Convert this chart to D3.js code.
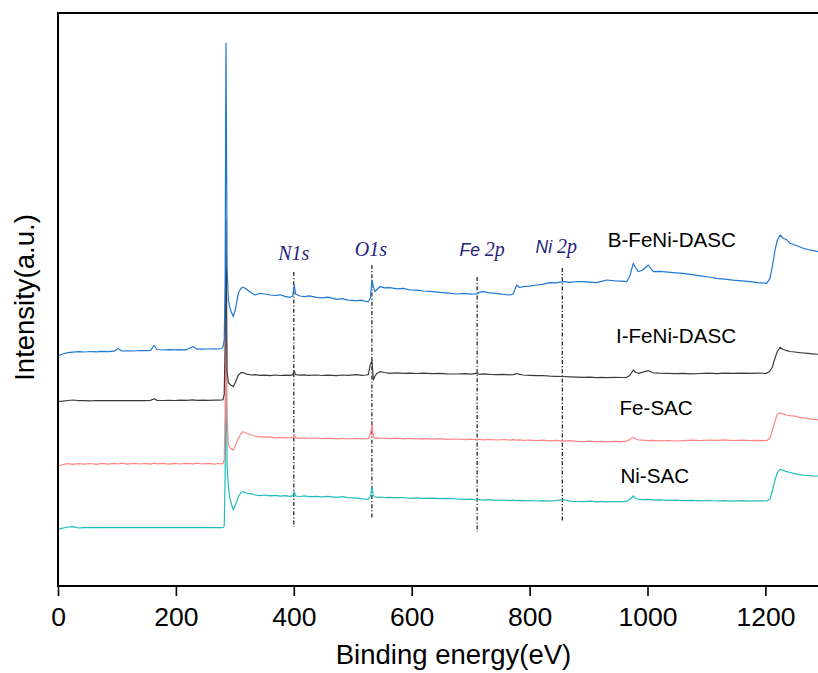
<!DOCTYPE html>
<html>
<head>
<meta charset="utf-8">
<script src="https://cdn.jsdelivr.net/npm/d3@7"></script>
<style>
  html, body { margin: 0; padding: 0; background: #fff; }
  svg { display: block; }
</style>
</head>
<body>
<svg id="chart" width="818" height="673"></svg>
<script>
// XPS survey spectra, stacked with vertical offsets (intensity in a.u.)
const energy = [
  0, 8, 17, 25, 35, 45, 55, 65, 75, 85,
  95, 102, 108, 118, 128, 138, 148, 157, 163, 168,
  178, 188, 198, 208, 218, 229, 236, 245, 255, 265,
  272, 278, 280, 282, 283.5, 284.5, 285, 285.8, 286.8, 289,
  292, 297.4, 301, 305.9, 310.4, 314.3, 320, 328.6, 334.2, 342.7,
  351, 359.6, 368, 377, 385, 393.6, 398, 400.8, 403, 410.5,
  418, 426, 438.8, 448, 458, 472.8, 482, 492, 506.7, 515,
  522, 526.4, 530, 532.6, 535, 537.7, 541, 546.2, 554, 563.2,
  575, 586, 597.1, 608, 620, 636.1, 648, 660, 676.3, 690,
  700, 710.3, 715, 721, 732, 744.2, 755, 766.8, 772, 778.1,
  783, 788.8, 800, 812, 822, 834.6, 845, 856.7, 868, 880,
  890.6, 902, 913.8, 922, 930.7, 945, 956, 964.7, 970, 975.9,
  980, 984.4, 992, 1001.4, 1009.8, 1020, 1035, 1048, 1060.7, 1075,
  1090, 1104, 1117.4, 1130, 1145, 1160, 1173.9, 1188, 1202.2, 1207.8,
  1212, 1216.3, 1220, 1224.8, 1230.4, 1236, 1241.7, 1250, 1258, 1264.4,
  1272, 1280, 1290
];

const bFeNiDASC = [
  230, 232, 233.3, 233.8, 234.3, 234, 234.5, 234.2, 234.6, 234.3,
  234.8, 237.5, 235, 235.2, 235, 235.5, 235.3, 235.6, 240.5, 236.5,
  236, 236.3, 236.1, 236.4, 236.2, 239.5, 236.8, 236.9, 237, 237.2,
  237, 237.5, 239.3, 246, 300, 480, 543, 450, 320, 286,
  277, 269.3, 277, 292.7, 297.7, 298.7, 296.7, 292.7, 291, 292.7,
  292, 291, 290.5, 291.2, 289.6, 288.7, 290, 301, 292, 290,
  289.4, 290.1, 288.7, 288.2, 288.8, 286.7, 287.3, 285.9, 285.3, 285.8,
  284.6, 284.3, 288, 306, 299, 294.3, 296.5, 299.3, 298.1, 298.3,
  297.2, 297.6, 296, 295.8, 295, 294.3, 293.6, 293.1, 292, 292.6,
  291.8, 292, 293.8, 294.3, 293.2, 292.7, 291.6, 291, 292, 301,
  298.5, 299.3, 299.8, 301, 301.6, 303.3, 303.1, 304.3, 303.7, 304.5,
  304.3, 303.9, 303.3, 304.6, 306, 305.2, 304.8, 304.3, 310, 322.7,
  318, 314.3, 316, 321, 314.3, 314.6, 313.8, 313.2, 312.7, 311.4,
  310.2, 309, 307.7, 306.9, 305.8, 305.1, 304.3, 303.4, 302.7, 307.7,
  320, 336, 345, 351, 347.7, 346.3, 342.7, 341, 339.2, 337.7,
  336.5, 335.6, 334.3
];

const iFeNiDASC = [
  184.3, 184.8, 185.5, 186, 185.3, 185.4, 185.2, 185.5, 185.3, 185.4,
  185.3, 185.5, 185.3, 185.4, 185.3, 185.5, 185.4, 185.6, 187.2, 185.6,
  185.5, 185.7, 185.5, 185.8, 185.6, 186.1, 185.7, 185.8, 185.7, 185.9,
  185.8, 186, 186.3, 192, 240, 330, 366, 300, 215, 203.5,
  201.5, 199.3, 204, 211, 213.3, 213.5, 211.8, 211, 211.3, 210.6,
  210.9, 210.4, 211, 210.5, 210.8, 210.6, 211.2, 215, 211.4, 210.8,
  211.2, 210.6, 211, 210.5, 210.9, 210.4, 211, 210.6, 211.3, 210.6,
  211, 211.4, 222, 225, 206, 210, 212.7, 214.3, 213.5, 212.7,
  213.1, 212.6, 212.9, 212.5, 212.8, 212.3, 212.6, 212.2, 212, 212.4,
  211.9, 212.6, 211.7, 212.1, 211.6, 211.3, 211.6, 211.1, 211.4, 212.5,
  211.6, 211, 210.6, 210.3, 210.5, 209.9, 209.7, 209.5, 209.2, 208.9,
  208.7, 208.9, 208.4, 208.6, 208.3, 208.7, 208.5, 208.7, 210.5, 216,
  213.5, 212.7, 213.8, 215.3, 213.2, 212.9, 212.7, 212.3, 212.7, 212.2,
  212.5, 212.9, 212.4, 212.8, 212.6, 212.9, 212.6, 212.8, 212.7, 215,
  219.3, 228, 234.3, 238.7, 236.5, 235.3, 234.5, 234, 233.3, 233,
  232.6, 232.2, 231.7
];

const feSAC = [
  120, 121.5, 122.3, 121.6, 122.4, 121.8, 122.5, 121.7, 122.6, 121.9,
  122.7, 122, 122.8, 121.9, 122.6, 122, 122.7, 121.9, 122.8, 122.1,
  122.6, 121.8, 122.7, 122, 122.6, 122.1, 122.8, 122, 122.6, 121.9,
  122.5, 122.2, 122.6, 126, 170, 250, 286, 240, 170, 141,
  138, 136, 140.5, 147.7, 152.5, 154.3, 152.8, 151, 150, 149.4,
  148.7, 149.2, 148.1, 148.6, 147.8, 148.5, 148, 151, 148.3, 147.6,
  148.2, 147.5, 148, 147.3, 147.9, 147.2, 147.7, 147, 147.6, 147.1,
  147.5, 147, 152, 161, 150, 147.7, 148.2, 147.5, 148, 147.3,
  147.8, 147.1, 147.6, 147, 147.4, 146.8, 147.3, 146.6, 147, 146.4,
  146.9, 146.3, 146.8, 146.2, 146.7, 146, 146.5, 145.9, 146.3, 145.8,
  146.2, 145.6, 146, 145.4, 145.9, 145.2, 145.6, 144.9, 145.3, 144.6,
  144.3, 144.8, 144.2, 144.7, 144.1, 144.6, 144.3, 144.9, 146.5, 148.7,
  147, 146.2, 145.8, 145.3, 145.7, 145.1, 145.5, 145, 145.3, 145.8,
  145.4, 146, 145.6, 146.1, 145.5, 145.9, 145.3, 145.7, 145.3, 148,
  156, 165, 171.5, 173.3, 171.8, 171, 170.4, 169.8, 168.7, 168.2,
  167.4, 166.8, 166
];

const niSAC = [
  56.7, 57.8, 59, 59.3, 58, 58.3, 58.3, 58.3, 58.3, 58.3,
  58.3, 58.3, 58.3, 58.3, 58.3, 58.3, 58.3, 58.3, 58.3, 58.3,
  58.3, 58.3, 58.3, 58.3, 58.3, 58.3, 58.3, 58.3, 58.3, 58.3,
  58.3, 58.3, 58.5, 60, 110, 190, 221, 180, 120, 99.3,
  86, 76, 81, 89.3, 93.5, 94.3, 92.7, 92.2, 91, 90.4,
  91, 90.2, 90.6, 89.8, 90.3, 89.6, 90.1, 94.3, 90, 89.5,
  90.1, 89.4, 89.7, 89.2, 89.6, 88.7, 89.4, 88.3, 87.8, 87.2,
  86.9, 86.7, 90, 98.7, 90.5, 89.3, 88.7, 89, 88.4, 88.7,
  88.1, 88.5, 87.7, 88.1, 87.6, 87.9, 87.3, 87.6, 87, 86.6,
  86.9, 86, 86.5, 85.9, 86.3, 85.6, 86, 85.3, 85.8, 85.3,
  85.7, 85.1, 85.5, 85, 85.4, 84.9, 85.3, 86.5, 84.8, 84.5,
  84.3, 84.8, 84.2, 84.6, 84.1, 84.5, 84.2, 84.8, 86.5, 90,
  87.5, 86.8, 86.4, 86.7, 85.9, 86.2, 85.6, 85.9, 85.3, 85.6,
  85.1, 85.5, 85, 85.4, 84.9, 85.3, 84.8, 85.2, 85, 87,
  96, 106, 113, 116.7, 115.6, 114.3, 113.5, 112.3, 111.2, 110.8,
  110.5, 110.2, 110
];

const seriesNames = ["B-FeNi-DASC", "I-FeNi-DASC", "Fe-SAC", "Ni-SAC"];
const seriesValues = [bFeNiDASC, iFeNiDASC, feSAC, niSAC];
const xTicks = [0, 200, 400, 600, 800, 1000, 1200];

// Core-level markers: binding energy and the span of the guide line (a.u.)
const peakNames = ["N1s", "O1s", "Fe 2p", "Ni 2p"];
const peakEnergies = [400, 532.5, 711, 855.5];
const guideTop = [314, 321, 309, 318];
const guideBottom = [59, 68, 54, 64];

// ---- layout ----
const plotLeft = 58, plotTop = 13, plotBottom = 586;
const xMax = 1300;
const pxPerEv = 0.5895;

const svg = d3.select("#chart");
const x = d3.scaleLinear().domain([0, xMax]).range([plotLeft, plotLeft + xMax * pxPerEv]);
const y = d3.scaleLinear().domain([0, 573]).range([plotBottom, plotTop]);

const colors = {
  "B-FeNi-DASC": "#1f78d6",
  "I-FeNi-DASC": "#3c3c3c",
  "Fe-SAC": "#ff8585",
  "Ni-SAC": "#22bcbc"
};

const sans = "'Liberation Sans', Arial, Helvetica, sans-serif";
const serif = "'Liberation Serif', 'Times New Roman', serif";

// guide lines for core levels
const guides = svg.append("g");
peakEnergies.forEach((e, i) => {
  guides.append("line")
    .attr("x1", x(e)).attr("x2", x(e))
    .attr("y1", y(guideTop[i])).attr("y2", y(guideBottom[i]))
    .attr("stroke", "#1a1a1a")
    .attr("stroke-width", 1.2)
    .attr("stroke-dasharray", "4 2 1.2 2");
});

// spectra, bottom trace drawn first
const line = d3.line()
  .x((d, i) => x(energy[i]))
  .y(d => y(d));

const traces = svg.append("g").attr("fill", "none");
[3, 2, 1, 0].forEach(k => {
  traces.append("path")
    .datum(seriesValues[k])
    .attr("d", line)
    .attr("stroke", colors[seriesNames[k]])
    .attr("stroke-width", 1.2)
    .attr("stroke-linejoin", "round");
});

// frame: left, top and bottom edges
const frame = svg.append("g").attr("stroke", "#000").attr("stroke-width", 2).attr("fill", "none");
frame.append("path")
  .attr("d", `M${x(0)},${plotBottom} L${x(0)},${plotTop} L${x(xMax)},${plotTop}`);
frame.append("line")
  .attr("x1", x(0) - 1).attr("x2", x(xMax))
  .attr("y1", plotBottom).attr("y2", plotBottom);

// x axis
const xAxis = svg.append("g")
  .attr("transform", `translate(0,${plotBottom})`)
  .call(d3.axisBottom(x).tickValues(xTicks).tickSize(10).tickPadding(11).tickFormat(d3.format("d")));
xAxis.select(".domain").remove();
xAxis.selectAll(".tick line").attr("stroke", "#000").attr("stroke-width", 1.6);
xAxis.selectAll(".tick text")
  .attr("fill", "#000")
  .style("font-family", sans)
  .style("font-size", "26.5px");

// axis titles
svg.append("text")
  .attr("x", 453.5).attr("y", 664)
  .attr("text-anchor", "middle")
  .style("font-family", sans).style("font-size", "27.5px")
  .attr("fill", "#000")
  .text("Binding energy(eV)");

svg.append("text")
  .attr("transform", "translate(33.5,297.5) rotate(-90)")
  .attr("text-anchor", "middle")
  .style("font-family", sans).style("font-size", "27.5px")
  .attr("fill", "#000")
  .text("Intensity(a.u.)");

// series names
const seriesLabelPos = [
  { e: 932.5, v: 339 },
  { e: 946.5, v: 243 },
  { e: 952.5, v: 171 },
  { e: 954, v: 103 }
];
seriesNames.forEach((name, i) => {
  svg.append("text")
    .attr("x", x(seriesLabelPos[i].e))
    .attr("y", y(seriesLabelPos[i].v))
    .style("font-family", sans).style("font-size", "20.6px")
    .attr("fill", "#000")
    .text(name);
});

// core-level labels
const peakLabelPos = [
  { dx: 0, v: 326 },
  { dx: -1, v: 330 },
  { dx: 5, v: 330.5 },
  { dx: -6, v: 333 }
];
peakNames.forEach((name, i) => {
  const t = svg.append("text")
    .attr("x", x(peakEnergies[i]) + peakLabelPos[i].dx)
    .attr("y", y(peakLabelPos[i].v))
    .attr("text-anchor", "middle")
    .attr("fill", "#22227a")
    .style("font-style", "italic");
  const parts = name.split(" ");
  if (parts.length > 1) {
    t.append("tspan").style("font-family", sans).style("font-size", "17.5px").text(parts[0] + " ");
    t.append("tspan").style("font-family", serif).style("font-size", "20px").text(parts.slice(1).join(" "));
  } else {
    t.style("font-family", serif).style("font-size", "20px").text(name);
  }
});
</script>
</body>
</html>
